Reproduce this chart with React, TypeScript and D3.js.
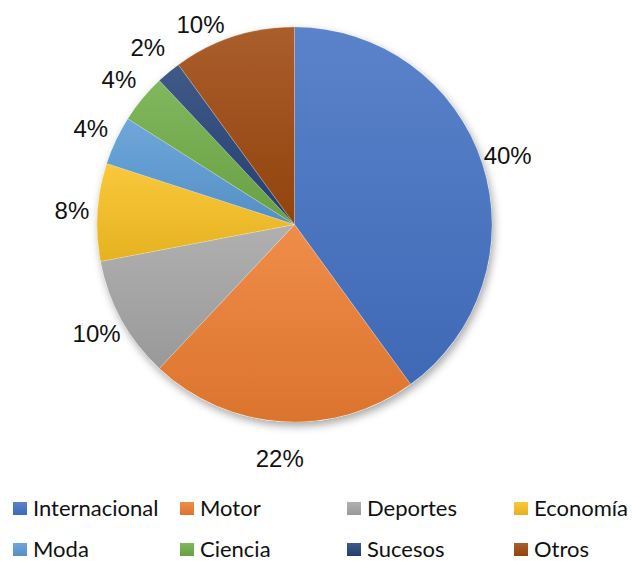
import React from "react";
import * as d3 from "d3";

const categories = ["Internacional", "Motor", "Deportes", "Economía", "Moda", "Ciencia", "Sucesos", "Otros"];
const values = [40, 22, 10, 8, 4, 4, 2, 10];
const labels = ["40%", "22%", "10%", "8%", "4%", "4%", "2%", "10%"];
const colors = ["#4472C4", "#ED7D31", "#A5A5A5", "#F8C021", "#5B9BD5", "#70AD47", "#264478", "#9E480E"];

const W = 632;
const H = 561;
const cx = 294.5;
const cy = 224.5;
const r = 197.5;
const labelR0 = 223;
const labelRv = 12;
const labelYMin = 24.5;

export default function App() {
  const pie = d3.pie<number>().sort(null).value((d) => d);
  const arcs = pie(values);
  const arcGen = d3.arc<d3.PieArcDatum<number>>().innerRadius(0).outerRadius(r);

  const labelPos = arcs.map((a) => {
    const mid = (a.startAngle + a.endAngle) / 2;
    const R = labelR0 + labelRv * Math.cos(mid) * Math.cos(mid);
    let dx = R * Math.sin(mid);
    let dy = -R * Math.cos(mid);
    if (cy + dy < labelYMin) {
      dy = labelYMin - cy;
      const Rc = labelR0 - 2;
      dx = Math.sign(dx) * Math.sqrt(Math.max(0, Rc * Rc - dy * dy));
    }
    return [cx + dx, cy + dy];
  });

  const colX = d3.scaleLinear().domain([0, 3]).range([13, 514]);
  const rowY = d3.scaleLinear().domain([0, 1]).range([502, 543]);

  return (
    <div style={{ position: "absolute", left: 0, top: 0 }}>
      <svg width={W} height={H} style={{ display: "block" }}>
        <defs>
          {colors.map((c, i) => {
            const top = d3.interpolateRgb(c, "#ffffff")(0.12);
            const bottom = d3.color(c)!.darker(0.22).formatHex();
            return (
              <linearGradient key={i} id={`g${i}`} x1="0" y1="0" x2="0" y2="1">
                <stop offset="0" stopColor={top} />
                <stop offset="1" stopColor={bottom} />
              </linearGradient>
            );
          })}
          <filter id="shadow" x="-20%" y="-20%" width="140%" height="140%">
            <feDropShadow dx="2" dy="4" stdDeviation="4" floodColor="#000" floodOpacity="0.35" />
          </filter>
        </defs>
        <rect width={W} height={H} fill="#ffffff" />
        <g transform={`translate(${cx},${cy})`}>
          <circle r={r} fill="#fff" filter="url(#shadow)" />
          {arcs.map((a, i) => (
            <path
              key={i}
              d={arcGen(a) || ""}
              fill={`url(#g${i})`}
              stroke="#ffffff"
              strokeOpacity={0.25}
              strokeWidth={0.75}
            />
          ))}
        </g>
        {labels.map((t, i) => (
          <text
            key={i}
            x={labelPos[i][0]}
            y={labelPos[i][1]}
            dy="0.35em"
            textAnchor="middle"
            fontFamily="'Liberation Sans', Arial, sans-serif"
            fontSize={24}
            fill="#111"
          >
            {t}
          </text>
        ))}
        {categories.map((c, i) => {
          const col = i % 4;
          const row = Math.floor(i / 4);
          const x = colX(col);
          const y = rowY(row);
          return (
            <g key={c}>
              <rect x={x} y={y} width={14} height={13} fill={`url(#g${i})`} />
              <text
                x={x + 20}
                y={y + 13.5}
                fontFamily="Lato, 'Noto Sans', sans-serif"
                fontSize={22}
                fill="#111"
              >
                {c}
              </text>
            </g>
          );
        })}
      </svg>
    </div>
  );
}
